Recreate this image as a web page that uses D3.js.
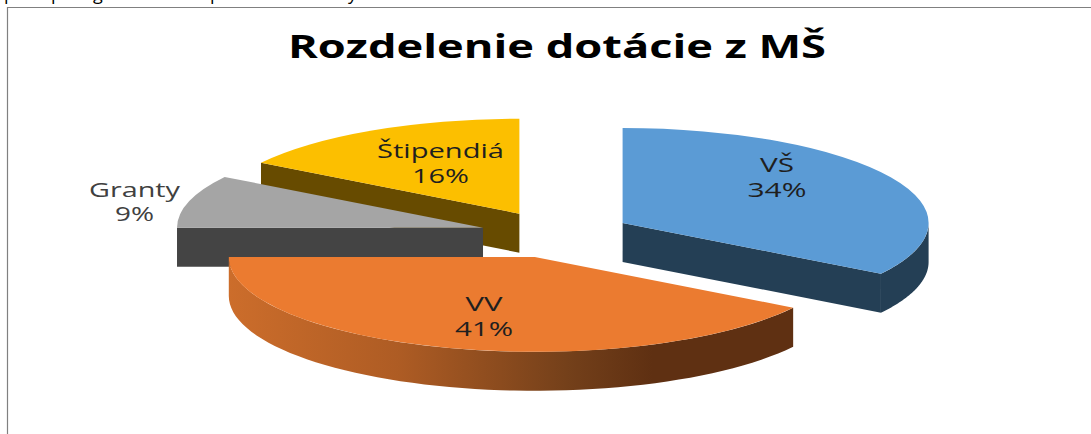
<!DOCTYPE html>
<html>
<head>
<meta charset="utf-8">
<script src="https://cdn.jsdelivr.net/npm/d3@7"></script>
<style>
  html, body { margin: 0; padding: 0; background: #fff; overflow: hidden; }
  svg { display: block; }
  text { font-family: "Open Sans", sans-serif; }
</style>
</head>
<body>
<svg width="1091" height="434"></svg>
<script>
const categories = ["VŠ", "VV", "Granty", "Štipendiá"];
const shares = [34, 41, 9, 16];
const topColors = ["#5B9BD5", "#EB7B30", "#A5A5A5", "#FCBF00"];
const wallColors = ["#243F55", "url(#vvWall)", "#444444", "#674B00"];
const titleText = "Rozdelenie dotácie z MŠ";
// letters of the line above the chart, only their tails show in the crop
const cutLetters = ["p", "p", "g", "p", "y"];

const width = 1091,
  height = 434;
const pieX = 556,
  pieY = 234.3,
  radius = 306,
  tilt = 0.31,
  depth = 39,
  explode = 76;

const svg = d3.select("svg");

const vvGradient = svg.append("defs").append("linearGradient").attr("id", "vvWall");
[
  [0, "#CC6D2B"],
  [0.3, "#AE5C24"],
  [0.6, "#74401A"],
  [0.75, "#5F3012"],
  [1, "#5F3012"],
].forEach((s) => vvGradient.append("stop").attr("offset", s[0]).attr("stop-color", s[1]));

// frame of the chart, open on the right and at the bottom
svg
  .append("path")
  .attr("d", d3.line()([[7.5, height], [7.5, 7.5], [width, 7.5]]))
  .attr("fill", "none")
  .attr("stroke", "#808080")
  .attr("stroke-width", 1.2);

// tails of the cut off line above the frame
const cutSpots = [4, 51, 93, 210, 348];
svg
  .selectAll("text.cut")
  .data(cutLetters)
  .enter()
  .append("text")
  .attr("class", "cut")
  .attr("x", (d, i) => cutSpots[i])
  .attr("y", -0.5)
  .attr("font-size", 18)
  .attr("fill", "#000")
  .text((d) => d);

svg
  .append("text")
  .attr("x", 557)
  .attr("y", 58)
  .attr("text-anchor", "middle")
  .attr("font-size", 32)
  .attr("font-weight", "bold")
  .attr("textLength", 538)
  .attr("lengthAdjust", "spacingAndGlyphs")
  .attr("fill", "#000")
  .text(titleText);

const pie = d3.pie().sort(null).value((d) => d);
const slices = pie(shares).map((s, i) => {
  const mid = (s.startAngle + s.endAngle) / 2;
  return {
    ...s,
    i,
    cx: pieX + explode * Math.sin(mid),
    cy: pieY - explode * tilt * Math.cos(mid),
  };
});

const rim = (a) => [radius * Math.sin(a), -radius * tilt * Math.cos(a)];
const wallLine = d3.line();
const topArc = d3.arc().innerRadius(0).outerRadius(radius);

// a flat wall between two points of the top face, dropped by the depth
function radialWall(a) {
  const p = rim(a);
  return wallLine([[0, 0], p, [p[0], p[1] + depth], [0, depth]]);
}

// the curved wall, only the part of the rim that faces the viewer
function outerWall(a0, a1) {
  const from = Math.max(a0, Math.PI / 2);
  const to = Math.min(a1, 1.5 * Math.PI);
  if (from >= to) return null;
  const angles = d3.range(0, 61).map((k) => from + ((to - from) * k) / 60);
  const upper = angles.map(rim);
  const lower = upper.map((p) => [p[0], p[1] + depth]).reverse();
  return wallLine(upper.concat(lower)) + "Z";
}

// back to front
const drawOrder = [3, 2, 0, 1];
drawOrder.forEach((idx) => {
  const s = slices[idx];
  const g = svg.append("g").attr("transform", `translate(${s.cx},${s.cy})`);
  const walls = [];
  if (Math.sin(s.startAngle) < -1e-6) walls.push(radialWall(s.startAngle));
  if (Math.sin(s.endAngle) > 1e-6) walls.push(radialWall(s.endAngle));
  const curved = outerWall(s.startAngle, s.endAngle);
  if (curved) walls.push(curved);

  walls.forEach((d) => g.append("path").attr("d", d).attr("fill", wallColors[idx]));

  g.append("g")
    .attr("transform", `scale(1,${tilt})`)
    .append("path")
    .attr("d", topArc(s))
    .attr("fill", topColors[idx]);
});

// labels sit in the slices, Granty outside on the left
const labelSpots = [
  [777, 172, 197],
  [484, 311, 336],
  [134.5, 197, 221],
  [440.5, 158, 183],
];
const labelWidths = [
  [34, 59],
  [37, 58],
  [91, 39],
  [127, 57],
];
slices.forEach((s, i) => {
  const label = svg.append("g").attr("fill", i === 2 ? "#404040" : "#1f1f1f");
  [categories[i], `${shares[i]}%`].forEach((txt, row) => {
    label
      .append("text")
      .attr("x", labelSpots[i][0])
      .attr("y", labelSpots[i][row + 1])
      .attr("text-anchor", "middle")
      .attr("font-size", 20)
      .attr("textLength", labelWidths[i][row])
      .attr("lengthAdjust", "spacingAndGlyphs")
      .text(txt);
  });
});
</script>
</body>
</html>
